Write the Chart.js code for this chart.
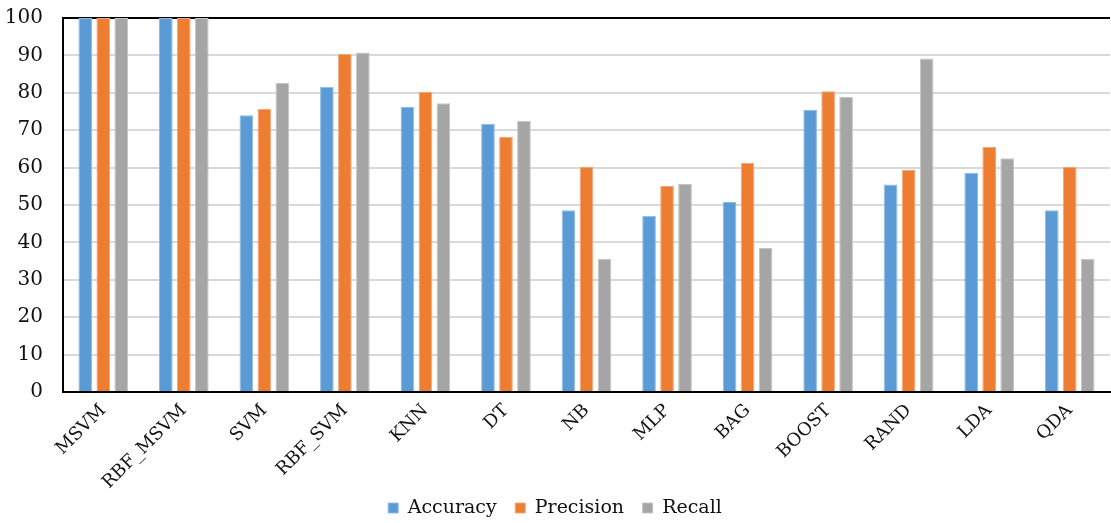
<!DOCTYPE html>
<html>
<head>
<meta charset="utf-8">
<script src="https://cdn.jsdelivr.net/npm/chart.js@4/dist/chart.umd.min.js"></script>
<style>
  html, body { margin: 0; padding: 0; background: #ffffff; }
  #wrap { width: 1111px; height: 523px; }
</style>
</head>
<body>
<div id="wrap"><canvas id="c" width="1111" height="523"></canvas></div>
<script>
// Classifier names along the x axis
const models = ['MSVM', 'RBF_MSVM', 'SVM', 'RBF_SVM', 'KNN', 'DT', 'NB', 'MLP', 'BAG', 'BOOST', 'RAND', 'LDA', 'QDA'];

// Scores (%) per classifier
const accuracy  = [100, 100, 74.0, 81.6, 76.2, 71.7, 48.6, 47.1, 50.8, 75.5, 55.5, 58.6, 48.6];
const precision = [100, 100, 75.7, 90.4, 80.3, 68.2, 60.2, 55.1, 61.2, 80.4, 59.4, 65.5, 60.2];
const recall    = [100, 100, 82.6, 90.8, 77.2, 72.5, 35.6, 55.6, 38.5, 78.9, 89.2, 62.5, 35.6];

// Value axis ticks
const yTicks = [0, 10, 20, 30, 40, 50, 60, 70, 80, 90, 100];

const serif = "'DejaVu Serif', serif";

new Chart(document.getElementById('c'), {
  type: 'bar',
  data: {
    labels: models,
    datasets: [
      { label: 'Accuracy',  data: accuracy,  backgroundColor: '#5B9BD5', borderColor: '#8DBBE6', borderWidth: 1 },
      { label: 'Precision', data: precision, backgroundColor: '#ED7D31', borderColor: '#F4A679', borderWidth: 1 },
      { label: 'Recall',    data: recall,    backgroundColor: '#A5A5A5', borderColor: '#C4C4C4', borderWidth: 1 }
    ]
  },
  options: {
    responsive: false,
    animation: false,
    devicePixelRatio: 1,
    layout: { padding: { top: 18, right: 1, left: 0, bottom: -4.5 } },
    datasets: { bar: { categoryPercentage: 0.67, barPercentage: 0.76 } },
    plugins: {
      tooltip: { enabled: false },
      legend: {
        position: 'bottom',
        labels: {
          font: { family: serif, size: 19 },
          color: '#111',
          boxWidth: 10,
          boxHeight: 10,
          padding: 6.5,
          // widen the gap after each entry except the last
          generateLabels: (chart) => {
            const items = Chart.defaults.plugins.legend.labels.generateLabels(chart);
            return items.map((it, i) => (i < items.length - 1 ? { ...it, text: it.text + '  ' } : it));
          }
        }
      }
    },
    scales: {
      x: {
        afterFit: (s) => { s.height = 100; s.paddingLeft = 0; s.paddingRight = 0; },
        grid: { display: false, drawTicks: false },
        border: { color: '#000', width: 2 },
        ticks: {
          font: { family: serif, size: 18 },
          color: '#111',
          minRotation: 45,
          maxRotation: 45,
          padding: 8
        }
      },
      y: {
        min: 0,
        max: 100,
        afterFit: (s) => { s.width = 63; s.paddingTop = 0; s.paddingBottom = 0; },
        afterBuildTicks: (s) => { s.ticks = yTicks.map(v => ({ value: v })); },
        grid: {
          drawTicks: false,
          lineWidth: 2,
          color: (ctx) => (ctx.tick && ctx.tick.value === 100 ? '#000' : '#D9D9D9')
        },
        border: { color: '#000', width: 2 },
        ticks: {
          font: { family: serif, size: 20 },
          color: '#111',
          padding: 20
        }
      }
    }
  }
});
</script>
</body>
</html>
